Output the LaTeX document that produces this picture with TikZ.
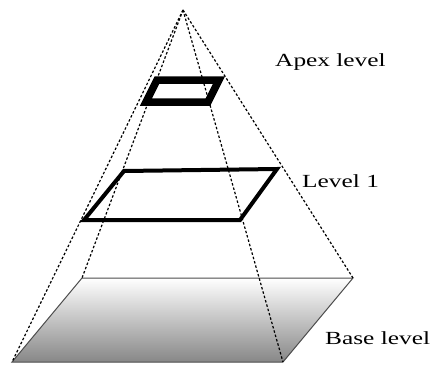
\documentclass[tikz,border=0pt]{standalone}
\usepackage{fontspec}
\setmainfont{Liberation Serif}
\begin{document}
\begin{tikzpicture}[x=1pt,y=-1pt,
  guide/.style={draw=black,line width=1.2pt,dash pattern=on 2.5pt off 2pt},
  frame/.style={draw=black,line join=miter},
  lbl/.style={anchor=west,inner sep=0pt,font=\fontsize{18.5}{20}\selectfont}]
\useasboundingbox (0,0) rectangle (433,367);
% corners
\coordinate (apex) at (183,10);
\coordinate (b1) at (82,278);
\coordinate (b2) at (353,278);
\coordinate (b3) at (283,362);
\coordinate (b4) at (12,362);
% base
\shade[top color=white,bottom color=black!47] (b1) -- (b2) -- (b3) -- (b4) -- cycle;
\draw[black!70,line width=1pt] (b1) -- (b2) -- (b3) -- (b4) -- cycle;
% guide lines
\draw[guide] (apex) -- (b4);
\draw[guide] (apex) -- (b1);
\draw[guide] (apex) -- (b3);
\draw[guide] (apex) -- (b2);
% level 1
\coordinate (l1) at (124,171);
\coordinate (l2) at (277,169);
\coordinate (l3) at (240,220);
\coordinate (l4) at (84,220);
\draw[frame,line width=4pt] (l1) -- (l2) -- (l3) -- (l4) -- cycle;
% apex level
\coordinate (a1) at (157,80);
\coordinate (a2) at (219,80);
\coordinate (a3) at (208,102);
\coordinate (a4) at (146,102);
\draw[frame,line width=7.5pt] (a1) -- (a2) -- (a3) -- (a4) -- cycle;
% labels
\node[lbl] (tapex) at (275,62) {\scalebox{1.37}[1]{Apex level}};
\node[lbl] (tl1) at (302,181) {\scalebox{1.37}[1]{Level 1}};
\node[lbl] (tbase) at (325,338) {\scalebox{1.37}[1]{Base level}};
\end{tikzpicture}
\end{document}
